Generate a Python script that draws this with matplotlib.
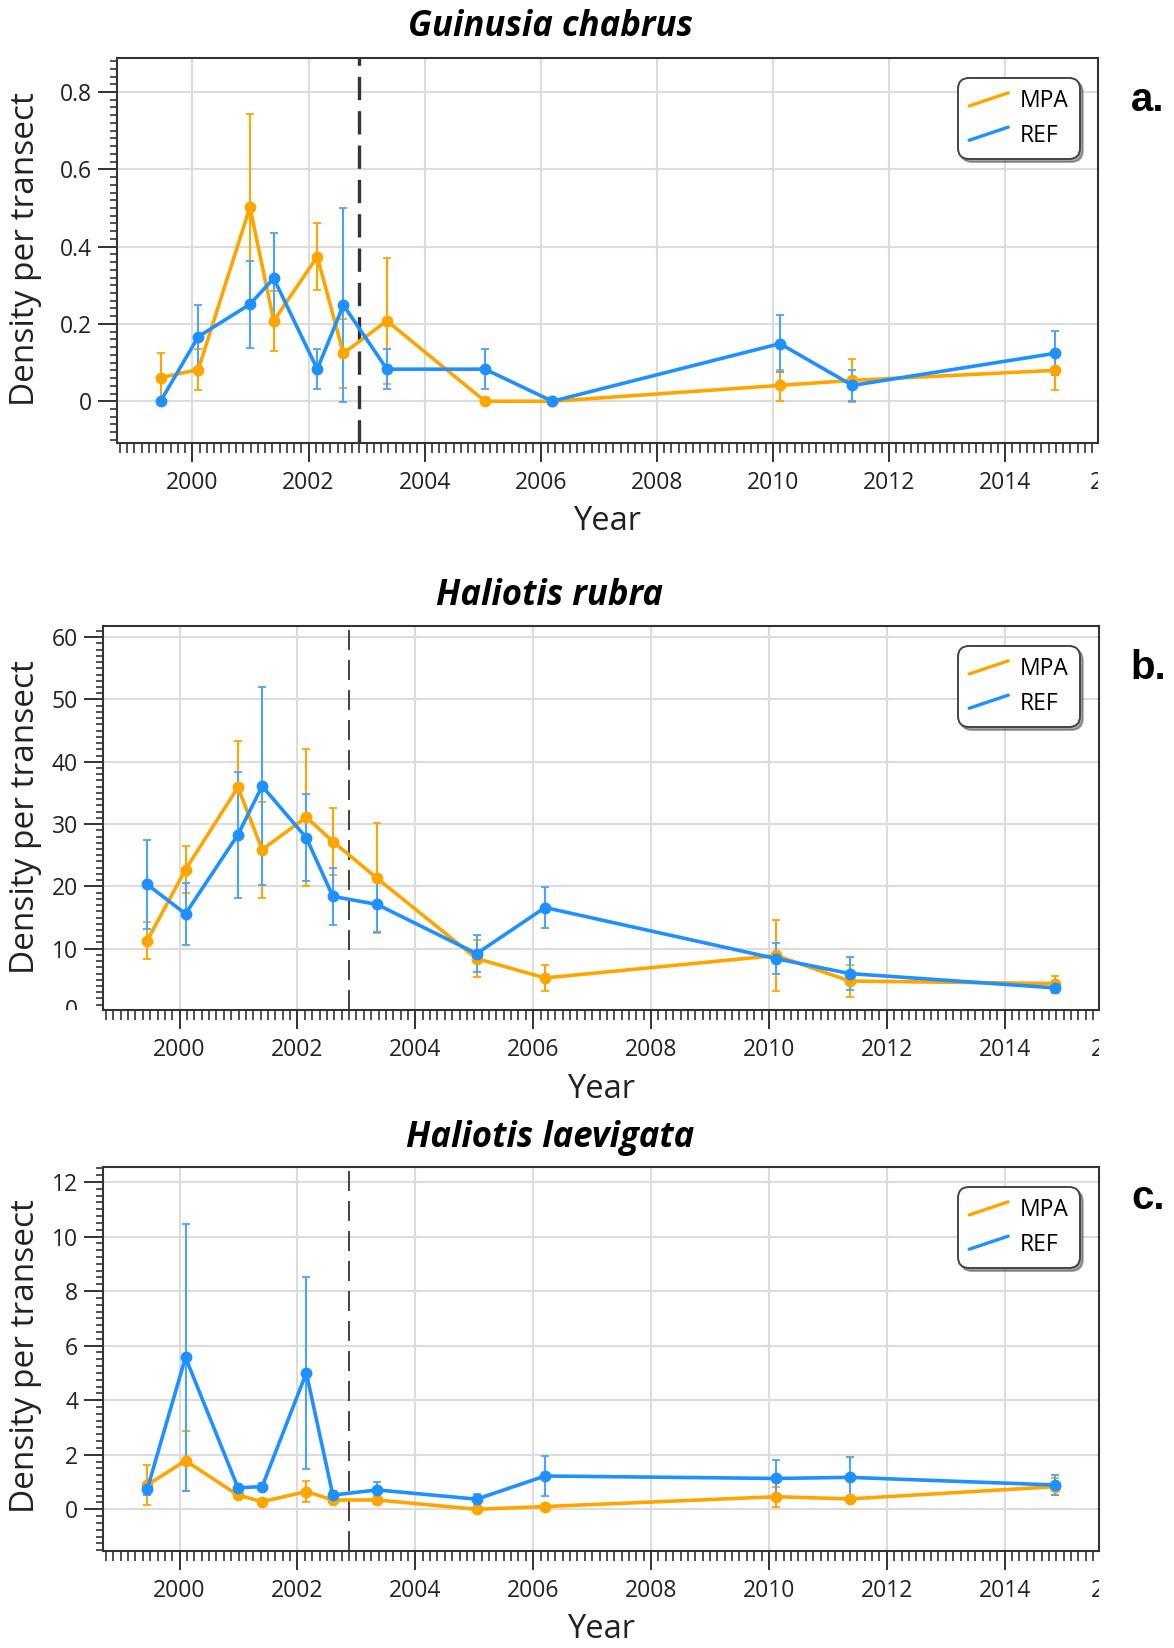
import matplotlib
matplotlib.use('Agg')
import matplotlib.pyplot as plt
from matplotlib.ticker import MultipleLocator, FixedLocator, FixedFormatter
from matplotlib.legend_handler import HandlerBase
from matplotlib.lines import Line2D
from matplotlib.transforms import Bbox, TransformedBbox

plt.rcParams['font.family'] = ['Open Sans', 'DejaVu Sans']

# survey dates (decimal years), shared by all three species
years = [1999.45, 2000.10, 2000.99, 2001.40, 2002.15, 2002.60,
         2003.35, 2005.04, 2006.20, 2010.12, 2011.37, 2014.86]

# Guinusia chabrus
gc_mpa = [0.061, 0.082, 0.502, 0.208, 0.374, 0.124, 0.208, 0.0, 0.0, 0.041, 0.054, 0.080]
gc_mpa_err = [0.065, 0.054, 0.242, 0.078, 0.087, 0.090, 0.163, 0.0, 0.0, 0.041, 0.056, 0.050]
gc_ref = [0.0, 0.167, 0.251, 0.318, 0.083, 0.249, 0.083, 0.083, 0.0, 0.149, 0.041, 0.124]
gc_ref_err = [0.0, 0.082, 0.113, 0.118, 0.052, 0.250, 0.052, 0.052, 0.0, 0.074, 0.041, 0.057]

# Haliotis rubra
hr_mpa = [11.3, 22.7, 35.9, 25.9, 31.1, 27.2, 21.3, 8.4, 5.3, 8.9, 4.8, 4.4]
hr_mpa_err = [3.0, 3.8, 7.4, 7.7, 11.0, 5.4, 8.8, 3.0, 2.1, 5.7, 2.6, 1.2]
hr_ref = [20.3, 15.6, 28.3, 36.1, 27.8, 18.4, 17.1, 9.2, 16.6, 8.4, 6.0, 3.7]
hr_ref_err = [7.2, 5.0, 10.1, 15.9, 7.0, 4.6, 4.4, 3.0, 3.3, 2.5, 2.7, 0.8]

# Haliotis laevigata
hl_mpa = [0.89, 1.78, 0.52, 0.28, 0.65, 0.34, 0.34, 0.0, 0.10, 0.46, 0.38, 0.83]
hl_mpa_err = [0.74, 1.10, 0.10, 0.05, 0.40, 0.10, 0.15, 0.05, 0.05, 0.37, 0.10, 0.30]
hl_ref = [0.73, 5.57, 0.79, 0.83, 5.00, 0.52, 0.71, 0.37, 1.22, 1.13, 1.17, 0.89]
hl_ref_err = [0.20, 4.90, 0.15, 0.15, 3.53, 0.15, 0.30, 0.20, 0.72, 0.67, 0.76, 0.35]

titles = ['Guinusia chabrus', 'Haliotis rubra', 'Haliotis laevigata']
panel_letters = ['a.', 'b.', 'c.']
xticks = [2000, 2002, 2004, 2006, 2008, 2010, 2012, 2014]
mpa_date = 2002.87

orange = '#FFA500'
blue = '#1E90FF'


class SlantHandler(HandlerBase):
    # legend keys drawn as short rising diagonal strokes
    def create_artists(self, legend, orig_handle, xdescent, ydescent,
                       width, height, fontsize, trans):
        x0, y0 = -xdescent, -ydescent
        ln = Line2D([x0, x0 + width], [y0 + height * 0.05, y0 + height * 0.95],
                    color=orig_handle.get_color(), lw=2.4,
                    solid_capstyle='round', transform=trans)
        return [ln]


W, H = 1174, 1648
fig = plt.figure(figsize=(W / 100, H / 100), dpi=100)

# axes boxes in pixels: left, top, right, bottom
boxes = [(117, 58, 1098, 443), (103, 626, 1099, 1010), (103, 1167, 1099, 1551)]
panels = [
    (gc_mpa, gc_mpa_err, gc_ref, gc_ref_err, (-0.108, 0.888),
     [0, 0.2, 0.4, 0.6, 0.8], ['0', '0.2', '0.4', '0.6', '0.8'], 0.02, 2.4, (7, 3.3)),
    (hr_mpa, hr_mpa_err, hr_ref, hr_ref_err, (0.15, 61.8),
     [10, 20, 30, 40, 50, 60], ['10', '20', '30', '40', '50', '60'], 1, 1.2, (12, 6)),
    (hl_mpa, hl_mpa_err, hl_ref, hl_ref_err, (-1.53, 12.55),
     [0, 2, 4, 6, 8, 10, 12], ['0', '2', '4', '6', '8', '10', '12'], 0.25, 1.2, (12, 6)),
]
title_y = [27, 596, 1138]
year_y = [522, 1089, 1630]
ylab_y = [249, 817, 1356]
letter_y = [100, 668, 1198]

for i, (box, p) in enumerate(zip(boxes, panels)):
    l, t, r, b = box
    mpa, mpa_err, ref, ref_err, ylim, yt, ytl, yminor, vlw, vdash = p
    ax = fig.add_axes([l / W, 1 - b / H, (r - l) / W, (b - t) / H])

    ax.errorbar(years, mpa, yerr=mpa_err, color=orange, lw=2.6, marker='o', ms=7.5,
                ecolor=orange, elinewidth=1.5, capsize=3, capthick=1.3)
    ax.errorbar(years, ref, yerr=ref_err, color=blue, lw=2.6, marker='o', ms=7.5,
                ecolor='#4aa3ff', elinewidth=1.5, capsize=3, capthick=1.3)
    ax.axvline(mpa_date, color='#222222' if i else '#333333', lw=vlw,
               dashes=vdash, zorder=1)

    ax.set_xlim(1998.7, 2015.6)
    ax.set_ylim(*ylim)
    ax.xaxis.set_major_locator(FixedLocator(xticks))
    ax.xaxis.set_minor_locator(MultipleLocator(0.125))
    ax.yaxis.set_major_locator(FixedLocator(yt))
    ax.yaxis.set_major_formatter(FixedFormatter(ytl))
    ax.yaxis.set_minor_locator(MultipleLocator(yminor))
    ax.tick_params(which='major', direction='out', length=14, width=1.4,
                   color='#333333', labelsize=16.5, labelcolor='#222222', pad=4)
    ax.tick_params(axis='x', which='minor', direction='out', length=7, width=1.2, color='#333333')
    ax.tick_params(axis='y', which='minor', direction='out', length=5, width=1.2, color='#333333')
    ax.tick_params(axis='x', which='major', pad=6)
    for s in ax.spines.values():
        s.set_linewidth(1.5)
        s.set_color('#333333')
    ax.grid(True, which='major', color='#dcdcdc', lw=1.5)
    ax.set_axisbelow(True)

    # cut-off tick label for 2016 at the right end, as in the original
    clip = TransformedBbox(Bbox.from_extents(-0.3, -0.5, 1.0, 1.0), ax.transAxes)
    txt = ax.annotate('2016', xy=(2016, 0), xycoords=('data', 'axes fraction'),
                      xytext=(-4, -20), textcoords='offset points',
                      ha='center', va='top', fontsize=16.5, color='#222222',
                      annotation_clip=False)
    txt.set_clip_on(True)
    txt.set_clip_box(clip)
    if i == 1:
        clip0 = TransformedBbox(Bbox.from_extents(-0.3, 0.0, 1.0, 1.0), ax.transAxes)
        z = ax.annotate('0', xy=(0, 0), xycoords=('axes fraction', 'data'),
                        xytext=(-18, 0), textcoords='offset points',
                        ha='right', va='center', fontsize=16.5, color='#222222',
                        annotation_clip=False)
        z.set_clip_on(True)
        z.set_clip_box(clip0)

    leg_right = (1080 - l) / (r - l)
    leg_top = 1 - 20 / (b - t)
    leg = ax.legend(handles=[Line2D([], [], color=orange), Line2D([], [], color=blue)],
                    labels=['MPA', 'REF'], loc='upper right', bbox_to_anchor=(leg_right, leg_top),
                    borderaxespad=0, handler_map={Line2D: SlantHandler()}, fontsize=16.5,
                    frameon=True, fancybox=True, shadow=True, framealpha=1, edgecolor='#444444',
                    handlelength=1.7, handleheight=0.6, handletextpad=0.5,
                    labelspacing=0.45, borderpad=0.5)
    leg.get_frame().set_linewidth(1.4)
    leg.get_frame().set_boxstyle('round', pad=0, rounding_size=0.5)
    leg.set_zorder(5)

    fig.text(550 / W, 1 - title_y[i] / H, titles[i], ha='center', va='center',
             fontsize=25, fontweight='bold', fontstyle='italic',
             family=['Open Sans', 'Noto Sans', 'Lato', 'DejaVu Sans'])
    fig.text((l + r) / 2 / W, 1 - year_y[i] / H, 'Year', ha='center', va='center',
             fontsize=23.5, color='#222222')
    fig.text(26 / W, 1 - ylab_y[i] / H, 'Density per transect', ha='center', va='center',
             rotation=90, fontsize=24, color='#222222')
    fig.text(1148 / W, 1 - letter_y[i] / H, panel_letters[i], ha='center', va='center',
             fontsize=29, fontweight='bold', family='Liberation Sans')

fig.savefig('out.png', dpi=100)
